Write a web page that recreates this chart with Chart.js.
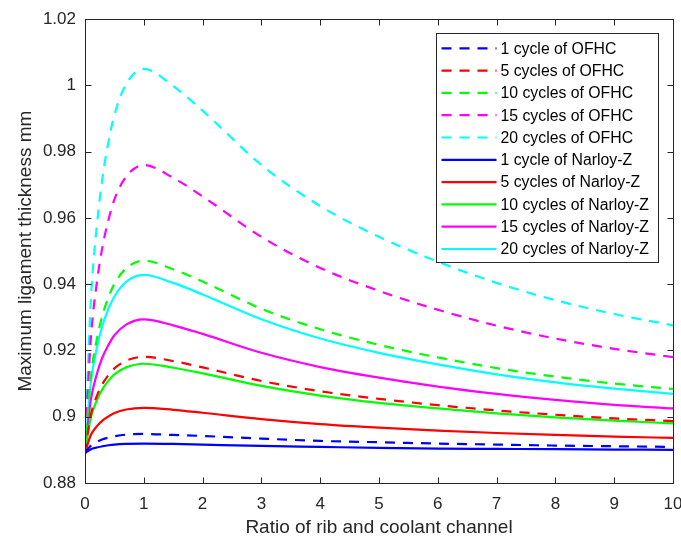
<!DOCTYPE html>
<html>
<head>
<meta charset="utf-8">
<title>Maximum ligament thickness</title>
<script src="https://cdn.jsdelivr.net/npm/chart.js@4.4.1/dist/chart.umd.min.js"></script>
<style>
  body { margin: 0; background: #fff; }
  canvas { display: block; }
</style>
</head>
<body>
<canvas id="chart" width="681" height="538"></canvas>
<script>
// data ------------------------------------------->
const ratio = [0, 0.05, 0.1, 0.2, 0.3, 0.4, 0.5, 0.7, 1, 1.5, 2, 3, 4, 5, 6, 7, 8, 9, 10]

const ofhc1  = [0.889, 0.8903, 0.8913, 0.8924, 0.8932, 0.8937, 0.8941, 0.8946, 0.8948, 0.8945, 0.8942, 0.8934, 0.8927, 0.8923, 0.8919, 0.8916, 0.8913, 0.8911, 0.8909]
const ofhc5  = [0.889, 0.8954, 0.9006, 0.9062, 0.9100, 0.9126, 0.9146, 0.9169, 0.9181, 0.9168, 0.9149, 0.9108, 0.9077, 0.9054, 0.9035, 0.9019, 0.9006, 0.8995, 0.8987]
const ofhc10 = [0.889, 0.9018, 0.9122, 0.9233, 0.9308, 0.9361, 0.9401, 0.9448, 0.9471, 0.9445, 0.9408, 0.9326, 0.9264, 0.9217, 0.9179, 0.9147, 0.9121, 0.9100, 0.9084]
const ofhc15 = [0.889, 0.9081, 0.9238, 0.9403, 0.9516, 0.9595, 0.9656, 0.9725, 0.9760, 0.9721, 0.9665, 0.9543, 0.9449, 0.9380, 0.9323, 0.9275, 0.9236, 0.9205, 0.9180]
const ofhc20 = [0.889, 0.9145, 0.9354, 0.9574, 0.9725, 0.9830, 0.9911, 1.0004, 1.0050, 0.9998, 0.9924, 0.9760, 0.9636, 0.9543, 0.9468, 0.9404, 0.9352, 0.9310, 0.9276]

const nz1  = [0.889, 0.8896, 0.8902, 0.8907, 0.8911, 0.8914, 0.8916, 0.8918, 0.8919, 0.8918, 0.8916, 0.8912, 0.8909, 0.8906, 0.8904, 0.8903, 0.8902, 0.8901, 0.8900]
const nz5  = [0.889, 0.8920, 0.8945, 0.8971, 0.8989, 0.9001, 0.9011, 0.9022, 0.9027, 0.9021, 0.9012, 0.8993, 0.8978, 0.8967, 0.8958, 0.8951, 0.8945, 0.8940, 0.8936]
const nz10 = [0.889, 0.8949, 0.8998, 0.9049, 0.9084, 0.9109, 0.9128, 0.9149, 0.9160, 0.9148, 0.9131, 0.9093, 0.9064, 0.9042, 0.9025, 0.9010, 0.8998, 0.8988, 0.8980]
const nz15 = [0.889, 0.8979, 0.9052, 0.9128, 0.9181, 0.9217, 0.9246, 0.9278, 0.9294, 0.9276, 0.9250, 0.9193, 0.9150, 0.9118, 0.9091, 0.9069, 0.9051, 0.9036, 0.9025]
const nz20 = [0.889, 0.9008, 0.9105, 0.9207, 0.9277, 0.9326, 0.9363, 0.9407, 0.9428, 0.9404, 0.9369, 0.9294, 0.9236, 0.9193, 0.9158, 0.9128, 0.9104, 0.9085, 0.9069]

const seriesNames = [
    '1 cycle of OFHC', '5 cycles of OFHC', '10 cycles of OFHC', '15 cycles of OFHC', '20 cycles of OFHC',
    '1 cycle of Narloy-Z', '5 cycles of Narloy-Z', '10 cycles of Narloy-Z', '15 cycles of Narloy-Z', '20 cycles of Narloy-Z'
]
const seriesValues = [ofhc1, ofhc5, ofhc10, ofhc15, ofhc20, nz1, nz5, nz10, nz15, nz20]

const xTickLabels = ['0', '1', '2', '3', '4', '5', '6', '7', '8', '9', '10']
const yTickLabels = ['0.88', '0.9', '0.92', '0.94', '0.96', '0.98', '1', '1.02']

// styles ----------------------------------------->
const colors = ['#0000ff', '#ff0000', '#00ff00', '#ff00ff', '#00ffff']
const axisColor = '#262626'
const font = 'Liberation Sans, Arial, Helvetica, sans-serif'

let datasets = seriesValues.map((vals, i) => ({
    label: seriesNames[i],
    data: vals.map((v, j) => ({x: ratio[j], y: v})),
    borderColor: colors[i % 5],
    borderWidth: 2.2,
    borderDash: i < 5 ? [10, 8] : [],
    pointRadius: 0,
    fill: false,
    cubicInterpolationMode: 'monotone'
}))

// box with inward ticks, like matlab
const axisBox = {
    id: 'axisBox',
    afterDraw(chart) {
        let {ctx, chartArea: a, scales} = chart
        let L = Math.round(a.left) + 0.5, R = Math.round(a.right) + 0.5
        let T = Math.round(a.top) + 0.5, B = Math.round(a.bottom) + 0.5
        ctx.save()
        ctx.strokeStyle = axisColor
        ctx.lineWidth = 1
        ctx.setLineDash([])
        ctx.strokeRect(L, T, R - L, B - T)
        ctx.beginPath()
        scales.x.ticks.forEach(t => {
            let px = Math.round(scales.x.getPixelForValue(t.value)) + 0.5
            ctx.moveTo(px, B); ctx.lineTo(px, B - 6)
            ctx.moveTo(px, T); ctx.lineTo(px, T + 6)
        })
        scales.y.ticks.forEach(t => {
            let py = Math.round(scales.y.getPixelForValue(t.value)) + 0.5
            ctx.moveTo(L, py); ctx.lineTo(L + 6, py)
            ctx.moveTo(R, py); ctx.lineTo(R - 6, py)
        })
        ctx.stroke()
        ctx.restore()
    }
}

// legend box inside the axes
const legendBox = {
    id: 'legendBox',
    afterDraw(chart) {
        let {ctx, chartArea: a} = chart
        let x0 = Math.round(a.right) - 14.5, y0 = Math.round(a.top) + 14.5
        let w = 222, h = 229
        let left = x0 - w
        ctx.save()
        ctx.fillStyle = '#fff'
        ctx.fillRect(left, y0, w, h)
        ctx.strokeStyle = axisColor
        ctx.lineWidth = 1
        ctx.strokeRect(left, y0, w, h)
        ctx.font = '15.8px ' + font
        ctx.textBaseline = 'middle'
        chart.data.datasets.forEach((ds, i) => {
            let y = y0 + 14.8 + i * 22.3
            ctx.strokeStyle = ds.borderColor
            ctx.lineWidth = ds.borderWidth
            ctx.setLineDash(ds.borderDash)
            ctx.beginPath()
            ctx.moveTo(left + 5, y)
            ctx.lineTo(left + 60, y)
            ctx.stroke()
            ctx.fillStyle = '#000'
            ctx.fillText(ds.label, left + 64, y + 1)
        })
        ctx.restore()
    }
}

// chart ----------------------------------------->
let ctx = document.getElementById('chart').getContext('2d')

let chart = new Chart(ctx, {
    type: 'line',
    data: {datasets: datasets},
    options: {
        responsive: false,
        animation: false,
        layout: {padding: {top: 19, right: 8, left: 0, bottom: 0}},
        plugins: {
            legend: {display: false},
            tooltip: {enabled: false}
        },
        scales: {
            x: {
                type: 'linear',
                min: 0,
                max: 10,
                afterFit: s => { s.height = 55; s.paddingLeft = 0; s.paddingRight = 0 },
                afterBuildTicks: s => { s.ticks = xTickLabels.map(Number).map(v => ({value: v})) },
                grid: {display: false, drawTicks: false, tickLength: 0},
                border: {display: false},
                ticks: {
                    padding: 11,
                    color: axisColor,
                    font: {family: font, size: 17},
                    maxRotation: 0,
                    callback: (v, i) => xTickLabels[i]
                },
                title: {
                    display: true,
                    text: 'Ratio of rib and coolant channel',
                    color: axisColor,
                    font: {family: font, size: 19},
                    padding: {top: 0, bottom: -1}
                }
            },
            y: {
                type: 'linear',
                min: 0.88,
                max: 1.02,
                afterFit: s => { s.width = 85 },
                afterBuildTicks: s => { s.ticks = yTickLabels.map(Number).map(v => ({value: v})) },
                grid: {display: false, drawTicks: false, tickLength: 0},
                border: {display: false},
                ticks: {
                    padding: 9,
                    color: axisColor,
                    font: {family: font, size: 17},
                    callback: (v, i) => yTickLabels[i]
                },
                title: {
                    display: true,
                    text: 'Maximum ligament thickness mm',
                    color: axisColor,
                    font: {family: font, size: 19},
                    padding: {top: 14, bottom: 0}
                }
            }
        }
    },
    plugins: [axisBox, legendBox]
})
</script>
</body>
</html>
